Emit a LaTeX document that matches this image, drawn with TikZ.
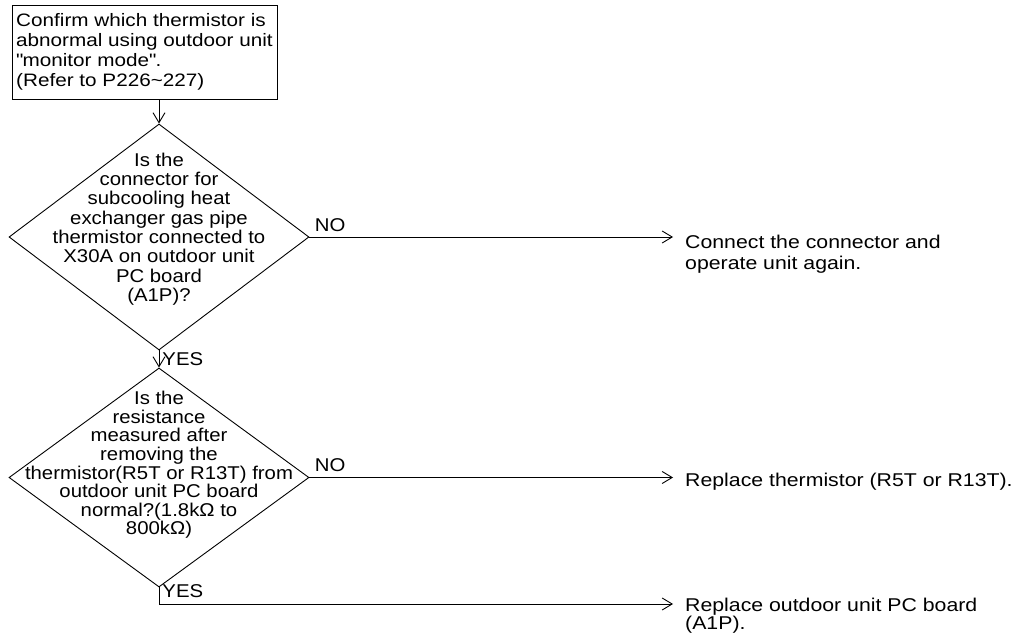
\documentclass[tikz,border=0pt]{standalone}
\usepackage{fontspec}
\setmainfont{Liberation Sans}[FakeStretch=1.1]
\newfontfamily\widefont{Liberation Sans}[FakeStretch=1.15]
\usetikzlibrary{shapes.geometric,arrows.meta}
\begin{document}
\begin{tikzpicture}[
  x=1pt, y=-1pt,
  every node/.style={font=\fontsize{18.5pt}{19.3pt}\selectfont},
  box/.style={draw, line width=0.9pt, minimum width=265pt, minimum height=94pt, inner sep=0pt, align=left,
    font=\widefont\fontsize{18pt}{20pt}\selectfont},
  decision/.style={draw, diamond, line width=0.9pt, inner sep=0pt, minimum width=300pt},
  ask/.style={align=center, inner sep=0pt},
  result/.style={anchor=west, align=left, inner sep=0pt},
  tag/.style={inner sep=3pt},
  nolabel/.style={inner sep=5pt, above right, pos=0},
  flow/.style={line width=0.9pt, -{Straight Barb[length=10pt, width=12pt]}},
  exit/.style={flow, shorten >=12pt}]

\useasboundingbox (0,0) rectangle (1025,639);

\node[box] (check) at (144.5,52) {Confirm which thermistor is\\abnormal using outdoor unit\\\textquotedbl monitor mode\textquotedbl.\\(Refer to P226\textasciitilde 227)};

\node[decision, minimum height=226pt] (conn) at (159,237) {};
\node[ask] (connq) at (159,229) {Is the\\connector for\\subcooling heat\\exchanger gas pipe\\thermistor connected to\\X30A on outdoor unit\\PC board\\(A1P)?};

\node[decision, minimum height=219pt] (res) at (159,477.5) {};
\node[ask, font=\fontsize{18.5pt}{18.6pt}\selectfont] (resq) at (159,465) {Is the\\resistance\\measured after\\removing the\\thermistor(R5T or R13T) from\\outdoor unit PC board\\normal?(1.8kΩ to\\800kΩ)};

\node[result, font=\widefont\fontsize{18.5pt}{20.7pt}\selectfont] (plug) at (685,254) {Connect the connector and\\operate unit again.};
\node[result, font=\widefont\fontsize{18.5pt}{20pt}\selectfont] (swap) at (685,482) {Replace thermistor (R5T or R13T).};
\node[result, font=\widefont\fontsize{18.5pt}{17pt}\selectfont] (board) at (685,616) {Replace outdoor unit PC board\\(A1P).};

\coordinate (turn) at (159,604);

\draw[flow] (check.south -| conn.north) -- (conn.north);
\draw[flow] (conn.south) -- node[tag, right] {YES} (res.north);
\draw[exit] (conn.east) -- node[nolabel] {NO} (conn.east -| plug.west);
\draw[exit] (res.east) -- node[nolabel] {NO} (res.east -| swap.west);
\draw[exit] (res.south) -- node[tag, right, pos=0.25] {YES} (turn) -- (turn -| board.west);
\end{tikzpicture}
\end{document}
